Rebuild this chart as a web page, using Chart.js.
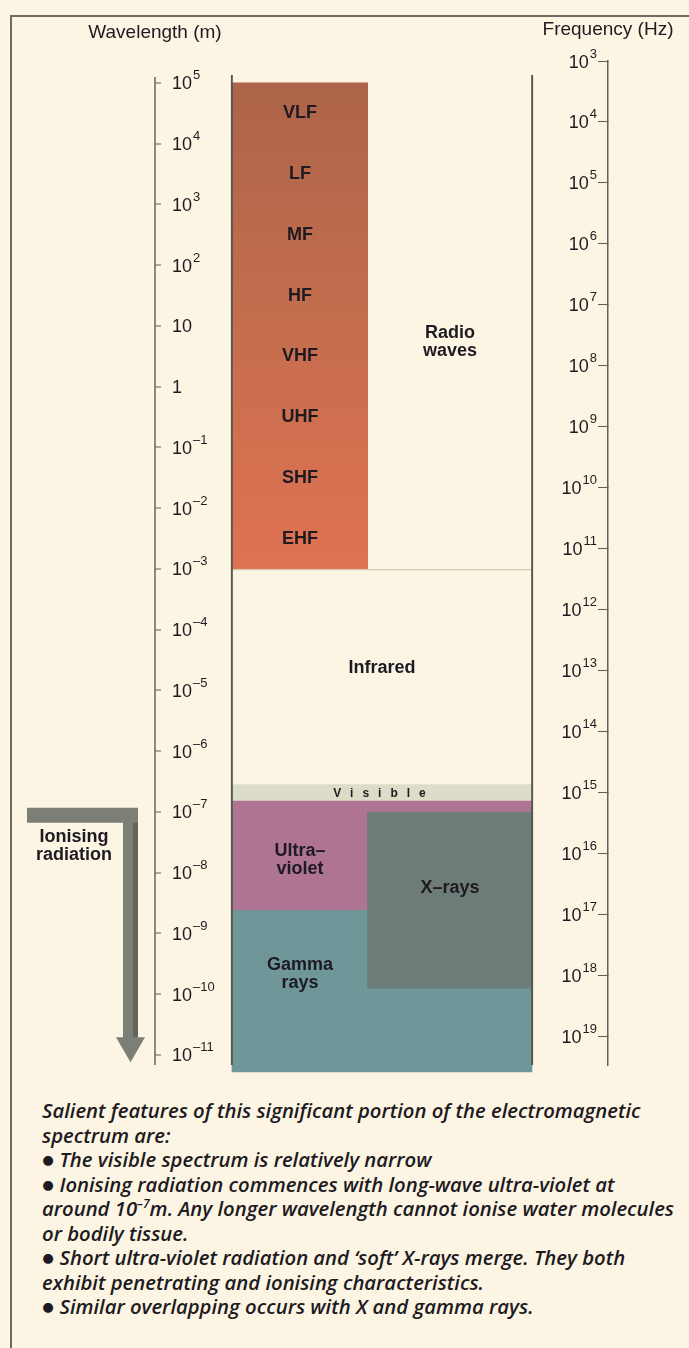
<!DOCTYPE html>
<html lang="en">
<head>
<meta charset="UTF-8">
<title>Electromagnetic spectrum</title>
<script src="https://cdn.jsdelivr.net/npm/chart.js"></script>
<style>
    html, body {
        margin: 0;
        padding: 0;
        background: #fcf5e3;
    }
    body {
        position: relative;
        width: 689px;
        height: 1348px;
        overflow: hidden;
    }
    .frame {
        position: absolute;
        left: 10px;
        top: 15px;
        width: 720px;
        height: 1400px;
        border-left: 2px solid #6d6c62;
        border-top: 2px solid #6d6c62;
    }
    #spectrum {
        position: absolute;
        left: 0;
        top: 0;
    }
    .notes {
        position: absolute;
        left: 42px;
        top: 1099px;
        font-family: "Open Sans", Lato, sans-serif;
        font-style: italic;
        font-weight: 600;
        font-size: 20px;
        line-height: 24.5px;
        color: #1d1a22;
        white-space: nowrap;
        transform-origin: 0 0;
    }
    .notes sup {
        font-size: 12px;
        vertical-align: 8px;
        line-height: 0;
    }
</style>
</head>
<body>
<div class="frame"></div>
<canvas id="spectrum" width="689" height="1090"></canvas>
<div class="notes" id="notes">
    <div>Salient features of this significant portion of the electromagnetic</div>
    <div>spectrum are:</div>
    <div>● The visible spectrum is relatively narrow</div>
    <div>● Ionising radiation commences with long-wave ultra-violet at</div>
    <div>around 10<sup>–7</sup>m. Any longer wavelength cannot ionise water molecules</div>
    <div>or bodily tissue.</div>
    <div>● Short ultra-violet radiation and ‘soft’ X-rays merge. They both</div>
    <div>exhibit penetrating and ionising characteristics.</div>
    <div>● Similar overlapping occurs with X and gamma rays.</div>
</div>

<script>
// tick marks, log10 of the value
const wavelengthTicks = [5, 4, 3, 2, 1, 0, -1, -2, -3, -4, -5, -6, -7, -8, -9, -10, -11];
const frequencyTicks = [3, 4, 5, 6, 7, 8, 9, 10, 11, 12, 13, 14, 15, 16, 17, 18, 19];

// radio sub-bands, one decade of wavelength each (log10 m)
const radioBands = ['VLF', 'LF', 'MF', 'HF', 'VHF', 'UHF', 'SHF', 'EHF'];
const radioFrom = [5, 4, 3, 2, 1, 0, -1, -2];
const radioTo = [4, 3, 2, 1, 0, -1, -2, -3];

// main regions, wavelength range as log10 m
const regions = ['Radio waves', 'Infrared', 'Visible', 'Ultra-violet', 'X-rays', 'Gamma rays'];
const regionFrom = [5, -3, -6.55, -6.82, -7.0, -8.61];
const regionTo = [-3, -6.55, -6.82, -8.61, -9.9, -11.28];

// ionising radiation arrow (log10 m)
const ionisingFrom = -6.93;
const ionisingTo = -11.12;

// ---- layout / styling ----
const yMin = -11.165, yMax = 5.362;      // wavelength scale range
const fMin = 3, fMax = 19.475;           // frequency scale range
const frameTop = 5.13;

// columns, x in px from the wavelength axis
const cols = {
    left: {x: 145, w: 135},
    right: {x: 295, w: 165},
    full: {x: 227, w: 300},
    frame: {x: 227, w: 302}
};

const regionStyle = {
    'Radio waves': {col: 'right', bg: 'rgba(0,0,0,0)', lines: ['Radio', 'waves'], dy: 16},
    'Infrared': {col: 'full', bg: 'rgba(0,0,0,0)', border: {top: 1}, lines: ['Infrared'], dy: -9},
    'Visible': {col: 'full', bg: '#dcdcc8', lines: []},
    'Ultra-violet': {col: 'full', bg: '#b07493', lines: ['Ultra–', 'violet'], labelCol: 'left', dy: 5},
    'X-rays': {col: 'right', bg: '#6e7c77', lines: ['X–rays'], dy: -12},
    'Gamma rays': {col: 'full', bg: '#6f979a', lines: ['Gamma', 'rays'], labelCol: 'left', dy: -17}
};
// drawing order, lower comes out on top
const drawOrder = {'X-rays': 1, 'Ultra-violet': 2, 'Gamma rays': 3, 'Visible': 4, 'Infrared': 5, 'Radio waves': 7};

const textColor = '#1d1a22';
const labelFont = 'bold 18px "Liberation Sans", Arial, sans-serif';

function radioGradient(context) {
    const chart = context.chart;
    if (!chart.chartArea) return '#c66f4f';
    const ys = chart.scales.y;
    const g = chart.ctx.createLinearGradient(0, ys.getPixelForValue(radioFrom[0]), 0, ys.getPixelForValue(radioTo[radioTo.length - 1]));
    g.addColorStop(0, '#ad6449');
    g.addColorStop(0.45, '#c26d4d');
    g.addColorStop(1, '#df7252');
    return g;
}

const datasets = [];

datasets.push({
    label: 'frame',
    data: [{x: cols.frame.x, y: [frameTop, yMin]}],
    barThickness: cols.frame.w,
    backgroundColor: 'rgba(0,0,0,0)',
    borderColor: '#56554f',
    borderWidth: {left: 1.5, right: 1.5, top: 0, bottom: 0},
    order: 0
});

regions.forEach((name, i) => {
    const st = regionStyle[name];
    datasets.push({
        label: name,
        data: [{x: cols[st.col].x, y: [regionFrom[i], regionTo[i]]}],
        barThickness: cols[st.col].w,
        backgroundColor: st.bg,
        borderColor: '#d2ccb9',
        borderWidth: st.border || 0,
        order: drawOrder[name]
    });
});

datasets.push({
    label: 'radio',
    data: radioBands.map((b, i) => ({x: cols.left.x, y: [radioFrom[i], radioTo[i]]})),
    barThickness: cols.left.w,
    backgroundColor: radioGradient,
    borderWidth: 0,
    inflateAmount: 0.5,
    order: 6
});

datasets.forEach(d => {
    d.stack = 'all';
    d.clip = false;
    d.borderSkipped = false;
});

function drawPower(ctx, exp, x, yc, align, plain) {
    let base = '10', sup = exp < 0 ? '–' + Math.abs(exp) : String(exp);
    if (plain && exp === 1) sup = '';
    if (plain && exp === 0) { base = '1'; sup = ''; }
    ctx.font = '18px "Liberation Sans", Arial, sans-serif';
    const bw = ctx.measureText(base).width;
    ctx.font = '13px "Liberation Sans", Arial, sans-serif';
    const ew = sup ? ctx.measureText(sup).width + 1 : 0;
    const x0 = align === 'left' ? x : x - bw - ew;
    ctx.textAlign = 'left';
    ctx.textBaseline = 'alphabetic';
    ctx.font = '18px "Liberation Sans", Arial, sans-serif';
    ctx.fillText(base, x0, yc + 6.5);
    if (sup) {
        ctx.font = '13px "Liberation Sans", Arial, sans-serif';
        ctx.fillText(sup, x0 + bw + 1, yc - 3.5);
    }
}

const spectrumLabels = {
    id: 'spectrumLabels',
    afterDatasetsDraw(chart) {
        const {ctx, chartArea} = chart;
        const xs = chart.scales.x, ys = chart.scales.y, fs = chart.scales.y2;
        ctx.save();
        ctx.fillStyle = textColor;

        // axis titles
        ctx.font = '19px "Liberation Sans", Arial, sans-serif';
        ctx.textAlign = 'center';
        ctx.textBaseline = 'middle';
        ctx.fillText('Wavelength (m)', ys.right, 33);
        ctx.fillText('Frequency (Hz)', fs.left, 30);

        // wavelength axis line
        ctx.strokeStyle = '#6d6459';
        ctx.lineWidth = 1.5;
        ctx.beginPath();
        ctx.moveTo(ys.right, ys.getPixelForValue(5.1));
        ctx.lineTo(ys.right, chartArea.bottom);
        ctx.stroke();

        // tick labels
        ys.ticks.forEach(t => drawPower(ctx, t.value, ys.right + 17, ys.getPixelForValue(t.value), 'left', true));
        fs.ticks.forEach(t => drawPower(ctx, t.value, fs.left - 11, fs.getPixelForValue(t.value), 'right', false));

        // band labels
        ctx.font = labelFont;
        ctx.textAlign = 'center';
        ctx.textBaseline = 'middle';
        chart.data.datasets.forEach((ds, di) => {
            const meta = chart.getDatasetMeta(di);
            if (ds.label === 'radio') {
                meta.data.forEach((el, i) => {
                    ctx.fillText(radioBands[i], el.x, (el.y + el.base) / 2);
                });
                return;
            }
            const st = regionStyle[ds.label];
            if (!st) return;
            const el = meta.data[0];
            const cy = (el.y + el.base) / 2;
            if (ds.label === 'Visible') {
                ctx.save();
                ctx.font = 'bold 12px "Liberation Sans", Arial, sans-serif';
                ctx.letterSpacing = '9px';
                ctx.fillText('Visible', el.x + 2, cy + 1);
                ctx.restore();
                return;
            }
            const lx = st.labelCol ? xs.getPixelForValue(cols[st.labelCol].x) : el.x;
            const n = st.lines.length;
            st.lines.forEach((line, k) => {
                ctx.fillText(line, lx, cy + (st.dy || 0) + (k - (n - 1) / 2) * 18);
            });
        });

        // ionising radiation arrow
        const top = ys.getPixelForValue(ionisingFrom);
        const tip = ys.getPixelForValue(ionisingTo);
        const L = chartArea.left;
        ctx.fillStyle = '#7c7f76';
        ctx.beginPath();
        ctx.moveTo(L - 128, top);
        ctx.lineTo(L - 17, top);
        ctx.lineTo(L - 17, tip - 25);
        ctx.lineTo(L - 10, tip - 25);
        ctx.lineTo(L - 24.5, tip);
        ctx.lineTo(L - 39, tip - 25);
        ctx.lineTo(L - 32, tip - 25);
        ctx.lineTo(L - 32, top + 15);
        ctx.lineTo(L - 128, top + 15);
        ctx.closePath();
        ctx.fill();
        // darker shading on the shaft
        ctx.fillStyle = '#62655d';
        ctx.fillRect(L - 22, top + 15, 5, tip - 25 - top - 15);

        ctx.fillStyle = textColor;
        ctx.font = labelFont;
        ctx.fillText('Ionising', L - 81, top + 29);
        ctx.fillText('radiation', L - 81, top + 47);
        ctx.restore();
    }
};

new Chart(document.getElementById('spectrum'), {
    type: 'bar',
    data: {datasets: datasets},
    options: {
        responsive: false,
        animation: false,
        layout: {padding: {left: 155, right: 81, top: 61, bottom: 25}},
        plugins: {
            legend: {display: false},
            tooltip: {enabled: false}
        },
        scales: {
            x: {
                type: 'linear',
                display: false,
                offset: false,
                min: 0,
                max: 453
            },
            y: {
                type: 'linear',
                position: 'left',
                stacked: false,
                min: yMin,
                max: yMax,
                afterBuildTicks: s => { s.ticks = wavelengthTicks.map(v => ({value: v})); },
                afterFit: s => { s.width = 0; },
                ticks: {display: false},
                border: {display: false},
                grid: {drawOnChartArea: false, drawTicks: true, tickLength: -6, color: '#5d5d55', lineWidth: 0, tickWidth: 1}
            },
            y2: {
                type: 'linear',
                position: 'right',
                reverse: true,
                min: fMin,
                max: fMax,
                afterBuildTicks: s => { s.ticks = frequencyTicks.map(v => ({value: v})); },
                afterFit: s => { s.width = 0; },
                ticks: {display: false},
                border: {display: true, color: '#5c625c', width: 1.5},
                grid: {drawOnChartArea: false, drawTicks: true, tickLength: -10, color: '#5d5d55', lineWidth: 1}
            }
        }
    },
    plugins: [spectrumLabels]
});

// squeeze the notes to the width of the printed block
const notes = document.getElementById('notes');
const nw = notes.getBoundingClientRect().width;
notes.style.transform = 'scaleX(' + (632 / nw) + ')';
</script>
</body>
</html>
